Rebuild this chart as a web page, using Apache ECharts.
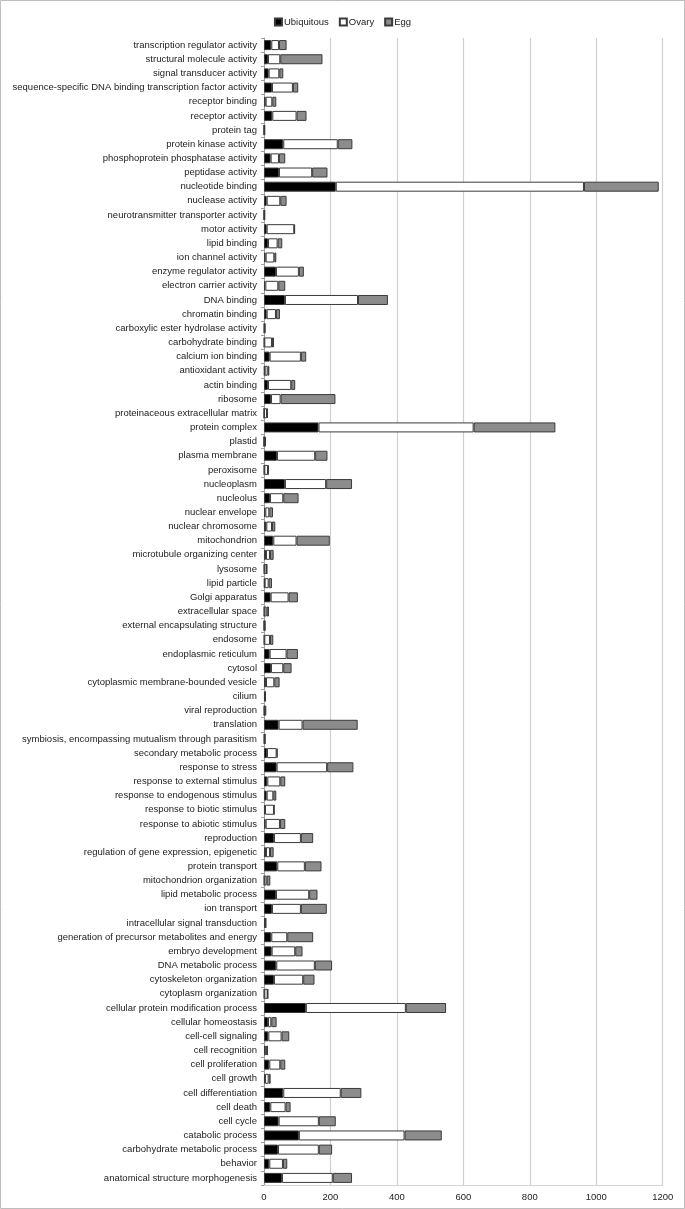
<!DOCTYPE html>
<html>
<head>
<meta charset="utf-8">
<script src="https://cdn.jsdelivr.net/npm/echarts@6/dist/echarts.min.js"></script>
<style>
html,body{margin:0;padding:0;background:#fff;}
#chart{width:685px;height:1209px;}
</style>
</head>
<body>
<div id="chart"></div>
<script>
const categories = [
"transcription regulator activity","structural molecule activity","signal transducer activity",
"sequence-specific DNA binding transcription factor activity","receptor binding","receptor activity",
"protein tag","protein kinase activity","phosphoprotein phosphatase activity","peptidase activity",
"nucleotide binding","nuclease activity","neurotransmitter transporter activity","motor activity",
"lipid binding","ion channel activity","enzyme regulator activity","electron carrier activity",
"DNA binding","chromatin binding","carboxylic ester hydrolase activity","carbohydrate binding",
"calcium ion binding","antioxidant activity","actin binding","ribosome",
"proteinaceous extracellular matrix","protein complex","plastid","plasma membrane","peroxisome",
"nucleoplasm","nucleolus","nuclear envelope","nuclear chromosome","mitochondrion",
"microtubule organizing center","lysosome","lipid particle","Golgi apparatus","extracellular space",
"external encapsulating structure","endosome","endoplasmic reticulum","cytosol",
"cytoplasmic membrane-bounded vesicle","cilium","viral reproduction","translation",
"symbiosis, encompassing mutualism through parasitism","secondary metabolic process",
"response to stress","response to external stimulus","response to endogenous stimulus",
"response to biotic stimulus","response to abiotic stimulus","reproduction",
"regulation of gene expression, epigenetic","protein transport","mitochondrion organization",
"lipid metabolic process","ion transport","intracellular signal transduction",
"generation of precursor metabolites and energy","embryo development","DNA metabolic process",
"cytoskeleton organization","cytoplasm organization","cellular protein modification process",
"cellular homeostasis","cell-cell signaling","cell recognition","cell proliferation","cell growth",
"cell differentiation","cell death","cell cycle","catabolic process","carbohydrate metabolic process",
"behavior","anatomical structure morphogenesis"
];

const ubiquitous = [
22,12,14,24,5,25,0,58,20,45,
216,8,0,8,12,5,36,4,63,8,
1,1,17,2,12,21,0,164,0,39,
1,63,18,4,7,28,6,1,2,20,
1,0,1,17,21,6,3,1,44,1,
9,38,10,8,3,5,30,6,40,1,
36,24,4,22,23,37,30,1,126,12,
13,5,16,3,58,19,44,105,42,16,
54
];

const ovary = [
23,37,32,63,20,73,2,164,25,100,
747,41,2,83,29,26,69,39,220,28,
1,23,94,9,70,29,9,467,2,115,
11,124,40,12,17,70,12,7,12,54,
7,3,17,51,37,25,1,1,72,2,
29,152,39,20,27,43,81,12,83,7,
100,87,1,48,71,116,88,10,301,10,
40,3,33,11,173,46,121,318,123,41,
153
];

const egg = [
23,127,12,16,12,30,0,44,19,46,
225,19,0,2,14,6,15,21,90,12,
2,6,16,5,12,165,2,246,4,37,
2,78,46,11,10,100,11,1,10,28,
7,0,10,34,25,16,1,5,166,0,
3,79,15,9,1,16,37,11,50,11,
25,78,1,78,22,52,34,1,121,16,
23,4,15,6,62,15,51,112,40,13,
58
];

const xTicks = {min:0, max:1200, interval:200};

const chart = echarts.init(document.getElementById('chart'), null, {renderer:'canvas'});
const font = 'Liberation Sans, Arial, sans-serif';
const borderCol = '#3a3a3a';
function mk(name, data, color){
  return {
    name, type:'bar', stack:'total', data, barWidth:10,
    itemStyle:{color, borderColor:borderCol, borderWidth:1},
    emphasis:{disabled:true}, animation:false
  };
}
chart.setOption({
  animation:false,
  graphic:[{type:'rect', shape:{x:0.5,y:0.5,width:684,height:1208}, style:{fill:'none',stroke:'#bdbdbd',lineWidth:1}, silent:true}],
  legend:{
    top:12, left:'center', itemWidth:7, itemHeight:7, itemGap:10, icon:'rect',
    textStyle:{fontFamily:font, fontSize:9.5, color:'#222', padding:[0,0,0,-3]},
    data:['Ubiquitous','Ovary','Egg']
  },
  grid:{left:264, right:22.3, top:38, bottom:24, containLabel:false},
  xAxis:{
    type:'value', min:xTicks.min, max:xTicks.max, interval:xTicks.interval,
    axisLine:{show:true, lineStyle:{color:'#d4d4d4'}},
    axisTick:{show:false},
    splitLine:{show:true, lineStyle:{color:'#cfcfcf', width:1.2}},
    axisLabel:{fontFamily:font, fontSize:9.5, color:'#222', margin:7, formatter:v=>String(v)}
  },
  yAxis:{
    type:'category', data:categories, inverse:true,
    axisLine:{show:true, lineStyle:{color:'#a0a0a0'}},
    axisTick:{show:true, length:3, lineStyle:{color:'#a0a0a0'}},
    axisLabel:{fontFamily:font, fontSize:9.5, color:'#222', margin:7, interval:0}
  },
  series:[
    mk('Ubiquitous', ubiquitous, '#000000'),
    mk('Ovary', ovary, '#ffffff'),
    mk('Egg', egg, '#8c8c8c')
  ]
});
</script>
</body>
</html>
